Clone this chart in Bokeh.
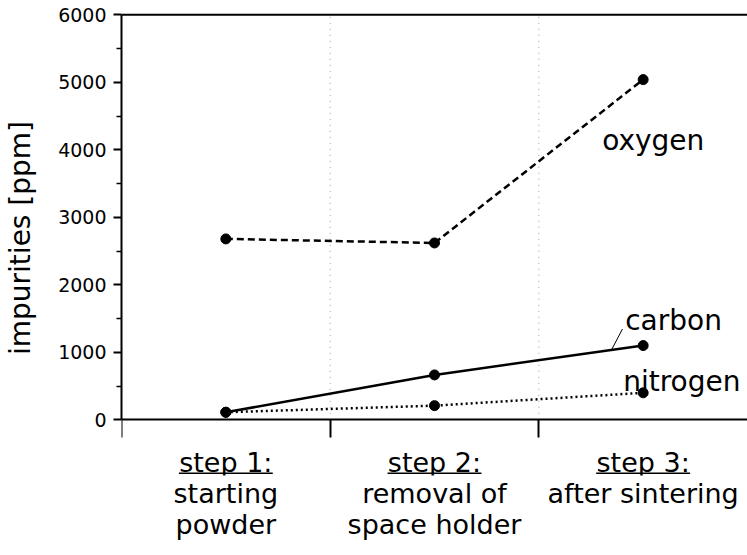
from bokeh.plotting import figure
from bokeh.models import (Range1d, LinearAxis, FixedTicker, Span, ColumnDataSource,
                          NumeralTickFormatter)
from bokeh.embed import file_html
from bokeh.resources import INLINE
from bokeh.core.properties import value

# ---- data ----
steps = ["step 1:", "step 2:", "step 3:"]
step_desc = ["starting\npowder", "removal of\nspace holder", "after sintering"]
step_pos = [0.5, 1.5, 2.5]          # category centres on a 0..3 axis
step_bounds = [0, 1, 2]             # category boundaries (ticks / grid)
oxygen = [2680, 2620, 5040]
carbon = [112, 665, 1100]
nitrogen = [112, 210, 400]
series_names = ["oxygen", "carbon", "nitrogen"]
y_ticks = [0, 1000, 2000, 3000, 4000, 5000, 6000]
y_minor = [500, 1500, 2500, 3500, 4500, 5500]
y_title = "impurities [ppm]"

FONT = "DejaVu Sans"
PX = 0.0675  # pixels per ppm

p = figure(width=747, height=555, output_backend="svg", toolbar_location=None,
           x_range=Range1d(0, 3), y_range=Range1d(-825, 6212),
           x_axis_type=None, y_axis_type=None,
           min_border_left=121, min_border_right=0, min_border_top=0, min_border_bottom=80)
p.outline_line_color = None
p.background_fill_color = "white"
p.border_fill_color = "white"

# y axis
yax = LinearAxis(bounds=(0, 6000), ticker=FixedTicker(ticks=y_ticks, minor_ticks=y_minor),
                 formatter=NumeralTickFormatter(format="0"), axis_label=y_title)
yax.axis_line_width = 2
yax.major_tick_line_width = 2
yax.minor_tick_line_width = 1.5
yax.major_tick_out = 8
yax.major_tick_in = 0
yax.minor_tick_out = 5
yax.minor_tick_in = 0
yax.major_label_standoff = 7
yax.major_label_text_font = FONT
yax.major_label_text_font_size = "19px"
yax.major_label_text_color = "black"
yax.axis_label_text_font = FONT
yax.axis_label_text_font_size = "28px"
yax.axis_label_text_font_style = "normal"
yax.axis_label_text_color = "black"
yax.axis_label_standoff = 18
p.add_layout(yax, "left")

# x axis: boundary ticks
xax = LinearAxis(fixed_location=0, ticker=FixedTicker(ticks=step_bounds, minor_ticks=[]))
xax.axis_line_width = 2
xax.major_tick_line_width = 2
xax.major_tick_out = 18
xax.major_tick_in = 0
xax.major_label_text_font_size = "0px"
xax.major_label_overrides = {b: "" for b in step_bounds}
p.add_layout(xax, "below")

# x axis: "step n:" labels (first line, underlined)
lab = LinearAxis(fixed_location=0, ticker=FixedTicker(ticks=step_pos, minor_ticks=[]))
lab.axis_line_color = None
lab.major_tick_line_color = None
lab.major_tick_out = 0
lab.major_tick_in = 0
lab.major_label_standoff = 27
lab.major_label_overrides = {pos: s for pos, s in zip(step_pos, steps)}
lab.major_label_text_font = FONT
lab.major_label_text_font_size = "27px"
lab.major_label_text_color = "black"
p.add_layout(lab, "below")

# x axis: step descriptions (below the frame)
desc = LinearAxis(ticker=FixedTicker(ticks=step_pos, minor_ticks=[]))
desc.axis_line_color = None
desc.major_tick_line_color = None
desc.major_tick_out = 0
desc.major_tick_in = 0
desc.major_label_standoff = 2
desc.major_label_overrides = {pos: d for pos, d in zip(step_pos, step_desc)}
desc.major_label_text_font = FONT
desc.major_label_text_font_size = "27px"
desc.major_label_text_color = "black"
desc.major_label_text_line_height = 1.03
p.add_layout(desc, "below")

# underline of "step n:"
ul_half = 0.225
p.segment(x0=[c - ul_half for c in step_pos], x1=[c + ul_half for c in step_pos],
          y0=[-790] * 3, y1=[-790] * 3, line_color="black", line_width=1.5)

# top border
p.add_layout(Span(location=6000, dimension="width", line_color="black", line_width=2))

# dotted vertical grid lines at inner boundaries
inner = step_bounds[1:]
p.segment(x0=inner, x1=inner, y0=[0] * len(inner), y1=[6000] * len(inner),
          line_color="#9a9a9a", line_width=1, line_dash="1 5")

# series
p.line(step_pos, oxygen, line_color="black", line_width=2.5, line_dash="7 4")
p.line(step_pos, carbon, line_color="black", line_width=2.5)
p.line(step_pos, nitrogen, line_color="black", line_width=2.5, line_dash="2 3")
for ys in (oxygen, carbon, nitrogen):
    p.scatter(step_pos, ys, size=10, marker="circle", fill_color="black", line_color="black")

# series labels next to last point
src = ColumnDataSource(dict(
    x=[step_pos[-1]] * 3,
    y=[oxygen[-1], carbon[-1], nitrogen[-1]],
    text=series_names,
    xo=[-41, -18, -20],
    yo=[61, -25, -11],
))
p.text(x="x", y="y", text="text", x_offset="xo", y_offset="yo", source=src,
       text_font=value(FONT), text_font_size="28px", text_color="black",
       text_align="left", text_baseline="alphabetic")

# leader line for "carbon"
t = 0.848
lx1 = step_pos[1] + t
ly1 = carbon[1] + t * (carbon[2] - carbon[1])
p.segment(x0=[lx1], y0=[ly1], x1=[lx1 + 11 / 208.7], y1=[ly1 + 21 / PX],
          line_color="black", line_width=1)

open("out.html", "w").write(file_html(p, INLINE))
